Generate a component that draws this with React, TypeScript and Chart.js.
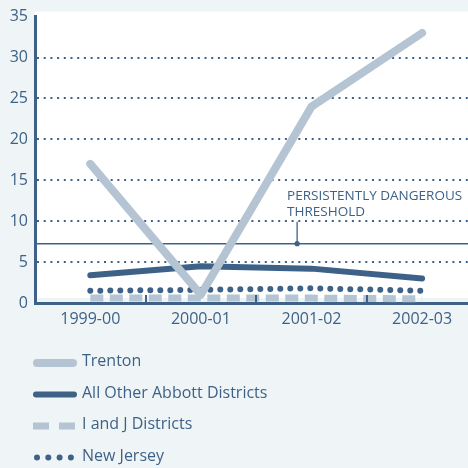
import React, { useEffect, useRef } from 'react';
import { Chart, registerables } from 'chart.js';

Chart.register(...registerables);

const categories = ['1999-00', '2000-01', '2001-02', '2002-03'];
const trenton = [17, 1, 24, 33];
const otherAbbott = [3.4, 4.5, 4.2, 3.0];
const iAndJ = [0.6, 0.6, 0.6, 0.5];
const newJersey = [1.5, 1.6, 1.8, 1.5];
const seriesNames = ['Trenton', 'All Other Abbott Districts', 'I and J Districts', 'New Jersey'];
const yTicks = [0, 5, 10, 15, 20, 25, 30, 35];
const threshold = 7.25;
const thresholdLabel = ['PERSISTENTLY DANGEROUS', 'THRESHOLD'];
const thresholdLabelX = 1.87;

const DARK = '#3e6287';
const LIGHT = '#b4c4d2';
const BG = '#eff5f6';
const FONT = '"Open Sans", "Noto Sans", sans-serif';

const toPts = (arr: number[]) => arr.map((y, i) => ({ x: i, y }));

const customPlugin = {
  id: 'custom',
  beforeDraw(chart: any) {
    const { ctx, chartArea, width, height } = chart;
    ctx.save();
    ctx.fillStyle = BG;
    ctx.fillRect(0, 0, width, height);
    ctx.fillStyle = '#ffffff';
    ctx.fillRect(chartArea.left, chartArea.top - 5, width - chartArea.left, chartArea.bottom - chartArea.top);
    ctx.restore();
  },
  beforeDatasetsDraw(chart: any) {
    const { ctx, chartArea, width, scales } = chart;
    const ty = scales.y.getPixelForValue(threshold);
    ctx.save();
    ctx.strokeStyle = DARK;
    ctx.lineWidth = 1.5;
    ctx.beginPath();
    ctx.moveTo(chartArea.left, ty);
    ctx.lineTo(width, ty);
    ctx.stroke();
    ctx.restore();
  },
  afterDraw(chart: any) {
    const { ctx, chartArea, scales } = chart;
    const xs = scales.x;
    const ty = scales.y.getPixelForValue(threshold);
    ctx.save();
    // category boundary ticks
    ctx.strokeStyle = DARK;
    ctx.lineWidth = 2;
    for (let i = 0; i < categories.length - 1; i++) {
      const px = Math.round(xs.getPixelForValue(i + 0.5));
      ctx.beginPath();
      ctx.moveTo(px, chartArea.bottom);
      ctx.lineTo(px, chartArea.bottom - 8);
      ctx.stroke();
    }
    // threshold annotation
    const ax = xs.getPixelForValue(thresholdLabelX);
    ctx.lineWidth = 1.3;
    ctx.beginPath();
    ctx.moveTo(ax, ty - 22);
    ctx.lineTo(ax, ty);
    ctx.stroke();
    ctx.fillStyle = DARK;
    ctx.beginPath();
    ctx.arc(ax, ty, 2.6, 0, Math.PI * 2);
    ctx.fill();
    ctx.font = `13.5px ${FONT}`;
    ctx.textBaseline = 'alphabetic';
    ctx.textAlign = 'left';
    ctx.fillText(thresholdLabel[0], ax - 10, ty - 44);
    ctx.fillText(thresholdLabel[1], ax - 10, ty - 28);

    // legend
    const x0 = 33;
    const x1 = 77;
    ctx.font = `16px ${FONT}`;
    chart.data.datasets.forEach((ds: any, i: number) => {
      const base = 366 + i * 31.5;
      const sy = base - 3;
      ctx.save();
      ctx.strokeStyle = ds.borderColor;
      ctx.fillStyle = ds.borderColor;
      if (i === 0 || i === 1) {
        ctx.lineWidth = ds.borderWidth;
        ctx.lineCap = 'round';
        ctx.beginPath();
        ctx.moveTo(x0 + ds.borderWidth / 2, sy);
        ctx.lineTo(x1 - ds.borderWidth / 2, sy);
        ctx.stroke();
      } else if (i === 2) {
        ctx.lineWidth = ds.borderWidth;
        ctx.setLineDash([16, 10]);
        ctx.beginPath();
        ctx.moveTo(x0, sy);
        ctx.lineTo(x1, sy);
        ctx.stroke();
      } else {
        for (let k = 0; k < 4; k++) {
          ctx.beginPath();
          ctx.arc(37 + k * 11.3, sy, 3, 0, Math.PI * 2);
          ctx.fill();
        }
      }
      ctx.restore();
      ctx.fillStyle = DARK;
      ctx.textAlign = 'left';
      ctx.textBaseline = 'alphabetic';
      ctx.fillText(ds.label, 82, base);
    });
    ctx.restore();
  },
};

export default function App() {
  const ref = useRef<HTMLCanvasElement | null>(null);
  useEffect(() => {
    if (!ref.current) return;
    const chart = new Chart(ref.current, {
      type: 'line',
      data: {
        datasets: [
          {
            label: seriesNames[0],
            data: toPts(trenton),
            borderColor: LIGHT,
            borderWidth: 8,
            borderCapStyle: 'round',
            borderJoinStyle: 'round',
            pointRadius: 0,
            fill: false,
          },
          {
            label: seriesNames[1],
            data: toPts(otherAbbott),
            borderColor: DARK,
            borderWidth: 6,
            borderCapStyle: 'round',
            borderJoinStyle: 'round',
            pointRadius: 0,
            fill: false,
          },
          {
            label: seriesNames[2],
            data: toPts(iAndJ),
            borderColor: LIGHT,
            borderWidth: 7,
            borderDash: [13, 6.5],
            borderCapStyle: 'butt',
            pointRadius: 0,
            fill: false,
          },
          {
            label: seriesNames[3],
            data: toPts(newJersey),
            borderColor: DARK,
            borderWidth: 6,
            borderDash: [0, 10],
            borderCapStyle: 'round',
            pointRadius: 0,
            fill: false,
          },
        ],
      } as any,
      options: {
        animation: false,
        responsive: false,
        devicePixelRatio: 1,
        layout: { padding: { top: 14, left: 0, right: 0, bottom: 0 } },
        plugins: { legend: { display: false }, tooltip: { enabled: false } },
        scales: {
          x: {
            type: 'linear',
            min: -0.5,
            max: 3.415,
            afterBuildTicks: (s: any) => {
              s.ticks = categories.map((_, i) => ({ value: i }));
            },
            afterFit: (s: any) => {
              s.height = 165;
            },
            ticks: {
              callback: (v: any) => categories[v] ?? '',
              color: DARK,
              font: { family: FONT, size: 16 },
              padding: 7,
              maxRotation: 0,
              autoSkip: false,
            },
            grid: { display: false, drawTicks: false },
            border: { display: true, color: DARK, width: 3 },
          },
          y: {
            type: 'linear',
            min: 0,
            max: 35,
            afterBuildTicks: (s: any) => {
              s.ticks = yTicks.map((v) => ({ value: v }));
            },
            afterFit: (s: any) => {
              s.width = 35;
            },
            ticks: {
              color: DARK,
              font: { family: FONT, size: 16 },
              padding: 7,
            },
            grid: {
              color: (c: any) => (c.tick && (c.tick.value === 0 || c.tick.value === 35) ? 'rgba(0,0,0,0)' : DARK),
              lineWidth: 2,
              drawTicks: false,
            },
            border: { display: true, color: DARK, width: 3, dash: [2, 4.7] },
          },
        },
      } as any,
      plugins: [customPlugin],
    });
    return () => chart.destroy();
  }, []);
  return (
    <div style={{ position: 'absolute', left: 0, top: 0, width: 468, height: 468 }}>
      <canvas ref={ref} width={468} height={468} style={{ display: 'block' }} />
    </div>
  );
}
